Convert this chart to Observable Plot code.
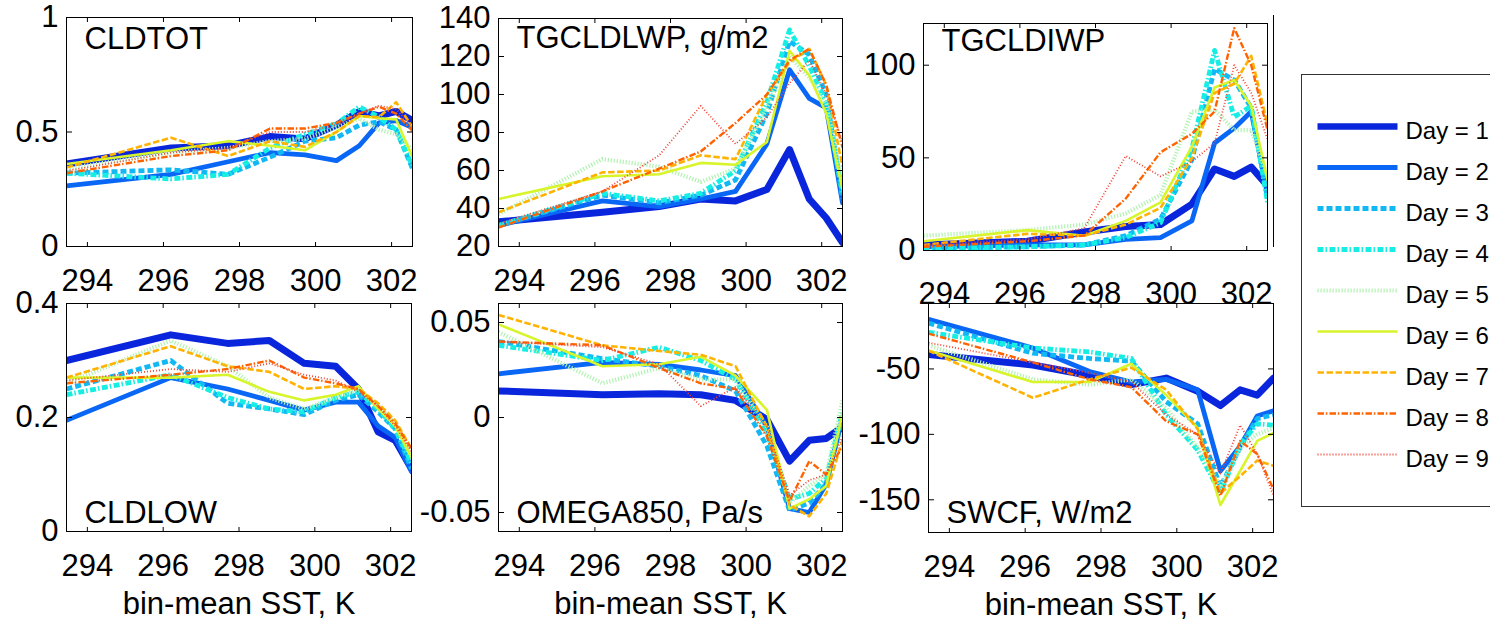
<!DOCTYPE html>
<html><head><meta charset="utf-8">
<script src="https://cdn.jsdelivr.net/npm/d3@7"></script>
<script src="https://cdn.jsdelivr.net/npm/@observablehq/plot@0.6"></script>
<style>
html,body{margin:0;padding:0;background:#fff;}
#chart{position:relative;width:1490px;height:622px;overflow:hidden;background:#fff;font-family:"Liberation Sans",Arial,Helvetica,sans-serif;}
#chart svg{position:absolute;overflow:visible;background:none;max-width:none;}
</style></head><body><div id="chart"></div>
<script>
// ---------- data ----------
const sst = [293.45, 296.2, 297.7, 298.8, 299.72, 300.55, 301.15, 301.67, 302.12, 302.55];
const xTicks = [294, 296, 298, 300, 302];
const days = ["Day = 1", "Day = 2", "Day = 3", "Day = 4", "Day = 5", "Day = 6", "Day = 7", "Day = 8", "Day = 9"];
const dayColors = ["#0a26dc", "#0a66f4", "#12b8f4", "#16eee4", "#b2f2b2", "#d8f42a", "#ffb300", "#ff6200", "#f04434"];
const dayWidths = [7, 4.8, 4.8, 4.8, 4.2, 2.6, 2.6, 2.4, 1.8];
const dayDashes = [null, null, "6,3", "6,2,1.5,2.5", "1.2,1.8", null, "6.5,2.5", "6.5,1.8,1.5,2.2", "1,2"];

const cldtot = [
  [0.36, 0.43, 0.44, 0.48, 0.47, 0.53, 0.59, 0.57, 0.59, 0.55],
  [0.265, 0.315, 0.37, 0.41, 0.40, 0.375, 0.44, 0.54, 0.55, 0.52],
  [0.32, 0.335, 0.315, 0.39, 0.46, 0.475, 0.53, 0.545, 0.51, 0.34],
  [0.32, 0.295, 0.315, 0.43, 0.49, 0.535, 0.61, 0.565, 0.51, 0.35],
  [0.34, 0.41, 0.43, 0.46, 0.47, 0.52, 0.56, 0.51, 0.49, 0.42],
  [0.36, 0.42, 0.46, 0.44, 0.42, 0.50, 0.57, 0.56, 0.555, 0.39],
  [0.345, 0.475, 0.395, 0.46, 0.435, 0.50, 0.57, 0.565, 0.63, 0.52],
  [0.32, 0.395, 0.42, 0.515, 0.515, 0.54, 0.58, 0.61, 0.58, 0.505],
  [0.33, 0.41, 0.43, 0.50, 0.50, 0.53, 0.58, 0.615, 0.60, 0.52]
];
const lwp = [
  [33, 38, 41, 45, 44, 50, 71, 45, 35, 22],
  [31, 44, 41, 45, 49, 74, 113, 98, 93, 43],
  [31, 47, 43, 47, 55, 90, 128, 121, 100, 45],
  [31, 48, 44, 48, 60, 96, 134, 115, 96, 48],
  [37, 66, 62, 54, 61, 93, 120, 109, 95, 52],
  [45, 57, 58, 64, 63, 75, 123, 110, 90, 50],
  [38, 59, 60, 68, 66, 100, 117, 124, 105, 62],
  [30, 49, 61, 70, 85, 100, 118, 124, 105, 72],
  [32, 49, 68, 94, 74, 88, 106, 118, 100, 75]
];
const iwp = [
  [3, 5, 10, 13, 14, 25, 44, 40, 45, 35],
  [2, 3, 3, 6, 7, 16, 58, 66, 75, 30],
  [1, 2, 3, 8, 17, 49, 98, 92, 77, 28],
  [1, 2, 3, 7, 15, 55, 108, 72, 78, 26],
  [8, 11, 14, 20, 30, 75, 76, 65, 65, 40],
  [5, 11, 8, 16, 26, 56, 88, 92, 78, 38],
  [3, 9, 8, 14, 23, 50, 85, 90, 105, 68],
  [2, 5, 8, 28, 53, 63, 75, 120, 100, 65],
  [3, 6, 12, 51, 40, 48, 58, 100, 85, 60]
];
const cldlow = [
  [0.30, 0.345, 0.33, 0.335, 0.295, 0.29, 0.25, 0.175, 0.16, 0.11],
  [0.195, 0.27, 0.25, 0.23, 0.213, 0.227, 0.227, 0.185, 0.165, 0.105],
  [0.25, 0.30, 0.225, 0.215, 0.205, 0.23, 0.24, 0.21, 0.18, 0.11],
  [0.24, 0.275, 0.235, 0.215, 0.21, 0.235, 0.245, 0.215, 0.18, 0.12],
  [0.26, 0.335, 0.29, 0.235, 0.215, 0.235, 0.25, 0.22, 0.19, 0.13],
  [0.27, 0.27, 0.275, 0.245, 0.23, 0.24, 0.255, 0.215, 0.185, 0.13],
  [0.27, 0.325, 0.29, 0.28, 0.25, 0.255, 0.25, 0.225, 0.195, 0.145],
  [0.26, 0.275, 0.285, 0.30, 0.27, 0.26, 0.25, 0.22, 0.19, 0.145],
  [0.265, 0.285, 0.28, 0.295, 0.275, 0.265, 0.245, 0.22, 0.185, 0.14]
];
const omega = [
  [0.014, 0.012, 0.0125, 0.012, 0.009, -0.001, -0.023, -0.012, -0.011, -0.005],
  [0.023, 0.029, 0.028, 0.025, 0.022, -0.005, -0.048, -0.05, -0.035, 0.0],
  [0.04, 0.031, 0.027, 0.022, 0.014, -0.015, -0.049, -0.045, -0.035, 0.001],
  [0.038, 0.03, 0.037, 0.03, 0.02, -0.008, -0.043, -0.04, -0.032, 0.003],
  [0.045, 0.018, 0.026, 0.02, 0.02, -0.005, -0.045, -0.036, -0.03, 0.009],
  [0.049, 0.027, 0.028, 0.032, 0.022, 0.004, -0.048, -0.043, -0.036, 0.002],
  [0.054, 0.038, 0.035, 0.033, 0.027, -0.005, -0.046, -0.052, -0.04, -0.012],
  [0.04, 0.038, 0.026, 0.018, 0.015, -0.01, -0.044, -0.023, -0.03, -0.015],
  [0.04, 0.037, 0.028, 0.006, 0.016, -0.005, -0.041, -0.033, -0.03, -0.01]
];
const swcf = [
  [-39, -47, -55, -62, -57, -67, -78, -66, -70, -57],
  [-12, -34, -52, -60, -58, -66, -128, -109, -86, -82],
  [-15, -38, -42, -44, -75, -92, -140, -110, -88, -85],
  [-22, -34, -37, -42, -85, -112, -145, -108, -92, -93],
  [-32, -58, -62, -58, -80, -110, -140, -110, -100, -95],
  [-36, -60, -60, -46, -70, -95, -154, -128, -105, -99],
  [-36, -72, -58, -49, -66, -96, -145, -132, -120, -124],
  [-23, -45, -58, -64, -90, -100, -147, -105, -115, -142],
  [-30, -45, -53, -60, -85, -100, -130, -93, -115, -147]
];

// ---------- drawing ----------
const FONT = '"Liberation Sans", Arial, Helvetica, sans-serif';
const chart = document.getElementById("chart");
const xDomain = [293.45, 302.55];

function panel(cfg) {
  const {l, t, w, h, series, yDomain, yTicks, yLabels = yTicks, title, titleTop, titleDy, xlabel, xPad = 22, ghost = false} = cfg;
  const mL = 110, mR = 12, mT = 12, mB = 100;
  const marks = [];
  series.forEach((vals, i) => {
    marks.push(Plot.line(sst.map((x, j) => ({x, y: vals[j]})), {
      x: "x", y: "y", stroke: dayColors[i], strokeWidth: dayWidths[i],
      strokeDasharray: dayDashes[i] || undefined,
      strokeLinecap: dayDashes[i] ? "butt" : "round", strokeLinejoin: "round", clip: true
    }));
  });
  marks.push(
    Plot.axisY(yLabels, {anchor: "left", tickSize: 0, tickPadding: 8, tickFormat: d => String(d), fontSize: 31, label: null}),
    Plot.axisY(yTicks, {anchor: "right", tickSize: 5, fill: "none", dx: -w, label: null}),
    Plot.axisY(yTicks, {anchor: "left", tickSize: 5, fill: "none", dx: w, label: null}),
    Plot.axisX(xTicks, {anchor: "bottom", tickSize: 0, tickPadding: xPad, tickFormat: d => String(d), fontSize: 31, label: null}),
    Plot.axisX(xTicks, {anchor: "top", tickSize: 5, fill: "none", dy: h, label: null}),
    Plot.axisX(xTicks, {anchor: "bottom", tickSize: 5, fill: "none", dy: -h, label: null}),
    Plot.frame({stroke: "#000", strokeWidth: 1}),
    Plot.text([title], {frameAnchor: titleTop ? "top-left" : "bottom-left", text: d => d, dx: 18, dy: titleDy,
      lineAnchor: "bottom", textAnchor: "start", fontSize: 31})
  );
  if (ghost) {
    // stray right edge of an overlapping axes box seen in the original figure
    marks.push(Plot.ruleX([xDomain[1]], {dx: 6, insetTop: -8, insetBottom: 3, stroke: "#000", strokeWidth: 1}));
  }
  if (xlabel) {
    marks.push(Plot.text([xlabel], {frameAnchor: "bottom", text: d => d, dy: 82, lineAnchor: "bottom", textAnchor: "middle", fontSize: 31}));
  }
  const svg = Plot.plot({
    width: w + mL + mR, height: h + mT + mB,
    marginLeft: mL, marginRight: mR, marginTop: mT, marginBottom: mB,
    x: {domain: xDomain}, y: {domain: yDomain},
    style: {fontFamily: FONT, fontSize: "31px", background: "transparent", overflow: "visible", color: "#000"},
    marks
  });
  svg.style.left = (l - mL) + "px";
  svg.style.top = (t - mT) + "px";
  chart.appendChild(svg);
}

const xlab = "bin-mean SST, K";
panel({l: 66, t: 17, w: 346, h: 229, series: cldtot, yDomain: [0, 1], yTicks: [0, 0.5, 1], title: "CLDTOT", titleTop: true, titleDy: 31});
panel({l: 498, t: 18, w: 344, h: 228, series: lwp, yDomain: [20, 140], yTicks: [20, 40, 60, 80, 100, 120, 140], title: "TGCLDLWP, g/m2", titleTop: true, titleDy: 29});
panel({l: 923, t: 23, w: 344, h: 227, series: iwp, yDomain: [0, 122.5], yTicks: [0, 50, 100], title: "TGCLDIWP", titleTop: true, titleDy: 27, xPad: 31, ghost: true});
panel({l: 66, t: 303, w: 345, h: 228, series: cldlow, yDomain: [0, 0.4], yTicks: [0, 0.2, 0.4], title: "CLDLOW", titleTop: false, titleDy: -9, xlabel: xlab});
panel({l: 498, t: 303, w: 344, h: 228, series: omega, yDomain: [-0.06, 0.06], yTicks: [-0.05, 0, 0.05], title: "OMEGA850, Pa/s", titleTop: false, titleDy: -9, xlabel: xlab});
panel({l: 928, t: 303, w: 345, h: 229, series: swcf, yDomain: [-175, 0], yTicks: [-150, -100, -50, 0], yLabels: [-150, -100, -50], title: "SWCF, W/m2", titleTop: false, titleDy: -10, xlabel: xlab});

// legend
const legendMarks = [Plot.frame({stroke: "#333", strokeWidth: 1})];
days.forEach((d, i) => {
  legendMarks.push(Plot.line([{x: 0, day: d}, {x: 1, day: d}], {
    x: "x", y: "day", stroke: dayColors[i], strokeWidth: Math.min(dayWidths[i], 6.5),
    strokeDasharray: dayDashes[i] || undefined, strokeLinecap: "butt"
  }));
});
legendMarks.push(Plot.text(days, {x: () => 1, y: d => d, text: d => d, dx: 8, dy: 4.5, textAnchor: "start", fontSize: 24}));
const legend = Plot.plot({
  width: 260, height: 450, marginLeft: 11, marginRight: 0, marginTop: 9, marginBottom: 9,
  x: {domain: [0, 1], range: [27, 107], axis: null},
  y: {type: "point", domain: days, range: [36.7, 412.3], axis: null},
  style: {fontFamily: FONT, fontSize: "24px", background: "transparent", overflow: "visible", color: "#000"},
  marks: legendMarks
});
legend.style.left = "1290px";
legend.style.top = "65px";
chart.appendChild(legend);
</script>
</body></html>
